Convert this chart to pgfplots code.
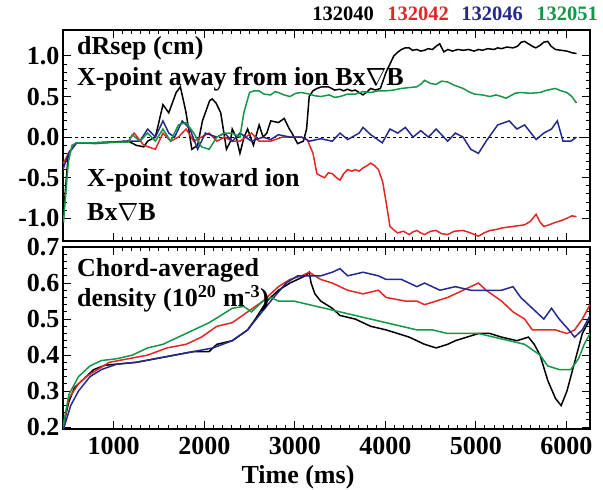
\documentclass[border=0pt]{standalone}
\usepackage{fontspec}
\setmainfont{Liberation Serif}
\usepackage{pgfplots}
\pgfplotsset{compat=1.18}
\definecolor{cred}{RGB}{228,38,36}
\definecolor{cblue}{RGB}{36,42,140}
\definecolor{cgreen}{RGB}{22,150,72}
\newcommand{\tl}{\fontsize{26}{26}\selectfont\bfseries}
\newcommand{\an}{\fontsize{26}{28}\selectfont\bfseries}
\newcommand{\hdr}{\fontsize{20.5}{22}\selectfont\bfseries}
\pgfplotsset{
  myaxis/.style={
    scale only axis, width=527pt, xmin=440, xmax=6260,
    axis line style={line width=1.6pt},
    every tick/.style={line width=1pt, black},
    major tick length=8pt, minor tick length=4pt,
    tick align=inside,
    xtick={1000,2000,...,6000}, minor x tick num=9,
    scaled ticks=false,
    ticklabel style={font=\tl},
    xticklabel style={yshift=-5pt},
    /pgf/number format/assume math mode=true,
    /pgf/number format/1000 sep={},
    every axis plot/.append style={line width=1.5pt, no marks},
    clip=true,
  }}
\begin{document}
\begin{tikzpicture}
\useasboundingbox (0,0) rectangle (603pt,-490pt);
\begin{axis}[myaxis, at={(63pt,-30pt)}, anchor=north west, height=211pt,
  ymin=-1.28, ymax=1.32, ytick={-1,-0.5,0,0.5,1}, minor y tick num=4,
  xticklabels={},
  yticklabel style={/pgf/number format/.cd, fixed, fixed zerofill, precision=1}]
\addplot[black, dashed, line width=1pt] coordinates {(440,0) (6260,0)};
% 132040
\addplot[black] coordinates {(445,-1.0) (470,-0.6) (500,-0.2) (589,-0.07) (800,-0.07) (1000,-0.06) (1162,-0.05) (1247,-0.1) (1332,-0.12) (1375,-0.05) (1460,0.0) (1544,0.4) (1608,0.3) (1690,0.55) (1736,0.62) (1780,0.4) (1799,0.3) (1863,-0.15) (1927,-0.1) (1980,0.2) (2012,0.3) (2060,0.45) (2088,0.47) (2130,0.42) (2182,0.3) (2245,-0.15) (2290,-0.05) (2309,0.1) (2352,0.0) (2394,-0.2) (2440,0.0) (2479,0.1) (2543,-0.1) (2606,0.15) (2650,0.0) (2691,0.05) (2734,0.2) (2819,0.18) (2883,0.23) (2940,0.1) (2968,0.05) (3031,-0.08) (3095,-0.05) (3130,0.1) (3159,0.5) (3200,0.57) (3244,0.6) (3300,0.62) (3371,0.62) (3440,0.58) (3499,0.59) (3540,0.57) (3580,0.59) (3630,0.57) (3668,0.58) (3710,0.55) (3753,0.52) (3800,0.56) (3838,0.6) (3890,0.58) (3945,0.6) (4008,0.8) (4093,1.0) (4140,1.05) (4178,1.08) (4220,1.1) (4263,1.1) (4300,1.07) (4348,1.08) (4390,1.06) (4433,1.07) (4470,1.09) (4520,1.08) (4561,1.12) (4600,1.15) (4646,1.05) (4690,1.08) (4740,1.06) (4800,1.08) (4858,1.07) (4920,1.08) (4980,1.06) (5030,1.08) (5071,1.07) (5130,1.09) (5200,1.08) (5240,1.1) (5283,1.09) (5340,1.11) (5410,1.1) (5460,1.12) (5500,1.17) (5538,1.18) (5580,1.15) (5623,1.12) (5660,1.1) (5708,1.13) (5750,1.17) (5793,1.18) (5830,1.12) (5878,1.08) (5940,1.07) (6005,1.06) (6060,1.04) (6111,1.03)};
% 132042
\addplot[cred] coordinates {(440,-0.33) (500,-0.2) (589,-0.07) (800,-0.08) (1162,-0.05) (1226,0.05) (1332,-0.1) (1460,-0.15) (1544,0.05) (1629,-0.05) (1714,0.0) (1799,0.1) (1884,-0.05) (1969,0.0) (2054,0.05) (2139,-0.05) (2224,0.0) (2309,-0.05) (2394,-0.05) (2522,0.05) (2606,-0.05) (2734,-0.05) (2861,0.0) (2989,0.0) (3074,0.0) (3137,-0.03) (3201,-0.2) (3244,-0.45) (3290,-0.48) (3329,-0.5) (3370,-0.44) (3414,-0.45) (3460,-0.5) (3499,-0.53) (3540,-0.45) (3584,-0.4) (3630,-0.42) (3668,-0.4) (3710,-0.42) (3753,-0.38) (3800,-0.35) (3838,-0.32) (3880,-0.35) (3923,-0.4) (3970,-0.55) (4008,-0.8) (4051,-1.1) (4100,-1.15) (4136,-1.18) (4200,-1.16) (4263,-1.2) (4300,-1.17) (4348,-1.15) (4390,-1.18) (4433,-1.2) (4500,-1.16) (4561,-1.15) (4620,-1.19) (4688,-1.2) (4760,-1.16) (4858,-1.15) (4940,-1.18) (5028,-1.22) (5090,-1.18) (5155,-1.15) (5220,-1.14) (5283,-1.12) (5350,-1.11) (5410,-1.1) (5480,-1.09) (5538,-1.08) (5600,-1.04) (5665,-0.95) (5710,-1.05) (5750,-1.1) (5810,-1.08) (5878,-1.05) (5940,-1.03) (6005,-1.0) (6060,-0.97) (6111,-0.98)};
% 132046
\addplot[cblue] coordinates {(440,-0.4) (500,-0.2) (589,-0.07) (800,-0.07) (1162,-0.05) (1290,-0.05) (1375,0.1) (1460,0.0) (1544,0.2) (1608,0.05) (1672,0.0) (1757,0.2) (1842,0.1) (1927,-0.15) (2012,0.05) (2139,0.0) (2224,0.05) (2309,-0.05) (2394,0.05) (2522,-0.05) (2649,0.0) (2734,-0.03) (2819,0.03) (2946,0.0) (3074,0.0) (3159,-0.05) (3286,-0.02) (3414,-0.05) (3499,0.05) (3584,-0.03) (3711,0.05) (3753,0.12) (3838,0.03) (3966,-0.07) (4051,0.1) (4136,0.05) (4221,0.12) (4306,0.0) (4391,0.08) (4476,0.0) (4561,0.1) (4688,-0.05) (4773,0.05) (4858,0.0) (4943,-0.15) (5028,-0.2) (5113,-0.05) (5240,0.15) (5368,0.2) (5453,0.1) (5538,0.15) (5665,-0.03) (5750,0.05) (5835,0.1) (5899,0.2) (5962,-0.05) (6048,-0.05) (6111,0.0)};
% 132051
\addplot[cgreen] coordinates {(445,-1.05) (470,-0.7) (500,-0.3) (540,-0.1) (589,-0.07) (800,-0.07) (1162,-0.06) (1205,0.03) (1290,-0.05) (1375,0.05) (1460,-0.05) (1544,0.1) (1629,-0.05) (1714,0.15) (1799,0.18) (1884,0.05) (1969,-0.12) (2054,-0.15) (2139,0.0) (2224,0.05) (2309,0.05) (2394,0.0) (2437,0.3) (2500,0.55) (2550,0.57) (2606,0.57) (2660,0.53) (2734,0.52) (2780,0.56) (2819,0.55) (2880,0.52) (2946,0.5) (3010,0.54) (3074,0.55) (3159,0.53) (3220,0.51) (3286,0.5) (3380,0.52) (3440,0.49) (3499,0.5) (3580,0.53) (3668,0.53) (3750,0.56) (3838,0.55) (3920,0.57) (4008,0.57) (4090,0.58) (4178,0.6) (4260,0.61) (4348,0.62) (4400,0.66) (4433,0.7) (4500,0.66) (4561,0.65) (4620,0.69) (4688,0.68) (4760,0.64) (4858,0.6) (4920,0.56) (4985,0.53) (5070,0.52) (5155,0.5) (5220,0.52) (5283,0.5) (5330,0.48) (5368,0.5) (5430,0.54) (5495,0.55) (5600,0.54) (5708,0.55) (5790,0.58) (5878,0.6) (5940,0.57) (6005,0.55) (6060,0.5) (6111,0.42)};
\end{axis}
\begin{axis}[myaxis, at={(63pt,-247pt)}, anchor=north west, height=182pt,
  ymin=0.195, ymax=0.7, ytick={0.2,0.3,...,0.7}, minor y tick num=4,
  yticklabel style={/pgf/number format/.cd, fixed, fixed zerofill, precision=1}]
\addplot[black] coordinates {(440,0.2) (504,0.27) (567,0.31) (652,0.33) (780,0.36) (907,0.372) (1035,0.375) (1247,0.38) (1460,0.39) (1672,0.40) (1884,0.41) (2054,0.41) (2139,0.43) (2309,0.44) (2479,0.47) (2564,0.5) (2691,0.55) (2819,0.58) (2946,0.6) (3116,0.62) (3159,0.63) (3180,0.6) (3222,0.57) (3286,0.55) (3414,0.53) (3499,0.51) (3668,0.5) (3838,0.48) (4008,0.47) (4136,0.46) (4263,0.45) (4433,0.43) (4561,0.42) (4688,0.43) (4773,0.44) (4901,0.45) (5028,0.46) (5155,0.46) (5283,0.45) (5453,0.44) (5580,0.45) (5644,0.43) (5708,0.4) (5793,0.33) (5878,0.28) (5941,0.26) (6005,0.3) (6090,0.38) (6175,0.46) (6260,0.5)};
\addplot[cred] coordinates {(440,0.2) (504,0.28) (610,0.32) (695,0.34) (822,0.36) (950,0.38) (1162,0.39) (1375,0.40) (1587,0.42) (1799,0.43) (1969,0.45) (2139,0.48) (2309,0.49) (2479,0.52) (2649,0.55) (2819,0.59) (2946,0.61) (3074,0.62) (3159,0.63) (3286,0.61) (3414,0.6) (3584,0.58) (3753,0.57) (3923,0.58) (4008,0.56) (4221,0.55) (4348,0.55) (4433,0.54) (4561,0.55) (4688,0.56) (4858,0.58) (5028,0.6) (5113,0.58) (5283,0.55) (5410,0.52) (5538,0.5) (5623,0.47) (5708,0.47) (5878,0.47) (6005,0.46) (6090,0.47) (6175,0.5) (6260,0.54)};
\addplot[cblue] coordinates {(440,0.19) (525,0.26) (610,0.3) (737,0.34) (865,0.36) (1035,0.375) (1247,0.38) (1460,0.39) (1672,0.40) (1884,0.41) (2097,0.42) (2309,0.44) (2479,0.47) (2606,0.51) (2734,0.55) (2904,0.6) (3031,0.62) (3159,0.62) (3286,0.62) (3414,0.63) (3499,0.64) (3584,0.62) (3753,0.63) (3923,0.62) (4008,0.61) (4178,0.61) (4348,0.59) (4433,0.6) (4603,0.58) (4773,0.59) (4943,0.58) (5113,0.58) (5283,0.58) (5410,0.59) (5495,0.56) (5623,0.53) (5750,0.5) (5835,0.53) (5920,0.5) (6026,0.47) (6090,0.45) (6175,0.47) (6260,0.51)};
\addplot[cgreen] coordinates {(440,0.2) (504,0.29) (610,0.34) (737,0.37) (865,0.385) (1035,0.39) (1205,0.4) (1375,0.42) (1544,0.43) (1714,0.45) (1884,0.47) (2054,0.49) (2182,0.51) (2309,0.53) (2437,0.535) (2522,0.52) (2649,0.55) (2734,0.56) (2819,0.55) (2989,0.55) (3159,0.54) (3329,0.53) (3499,0.52) (3668,0.51) (3838,0.5) (4008,0.49) (4178,0.48) (4348,0.47) (4518,0.47) (4688,0.46) (4858,0.46) (5028,0.46) (5198,0.45) (5368,0.44) (5538,0.43) (5708,0.4) (5793,0.37) (5920,0.36) (6048,0.36) (6133,0.39) (6196,0.43) (6260,0.46)};
\end{axis}
\node[font=\tl, inner sep=0pt, anchor=base] at (298pt,-483pt) {Time (ms)};
\node[anchor=west, font=\an, inner sep=0pt] at (77pt,-48pt) {dRsep (cm)};
\node[anchor=west, font=\an, inner sep=0pt] at (77pt,-79pt) {X-point away from ion Bx$\nabla$B};
\node[anchor=west, font=\an, inner sep=0pt] at (87pt,-180pt) {X-point toward ion};
\node[anchor=west, font=\an, inner sep=0pt] at (87pt,-212pt) {Bx$\nabla$B};
\node[anchor=west, font=\an, inner sep=0pt] at (77pt,-270pt) {Chord-averaged};
\node[anchor=west, font=\an, inner sep=0pt] at (77pt,-299pt) {density (10\textsuperscript{20} m\textsuperscript{-3})};
\node[font=\hdr, inner sep=0pt, text=black] at (343pt,-14pt) {132040};
\node[font=\hdr, inner sep=0pt, text=cred] at (418pt,-14pt) {132042};
\node[font=\hdr, inner sep=0pt, text=cblue] at (492pt,-14pt) {132046};
\node[font=\hdr, inner sep=0pt, text=cgreen] at (567pt,-14pt) {132051};
\end{tikzpicture}
\end{document}
